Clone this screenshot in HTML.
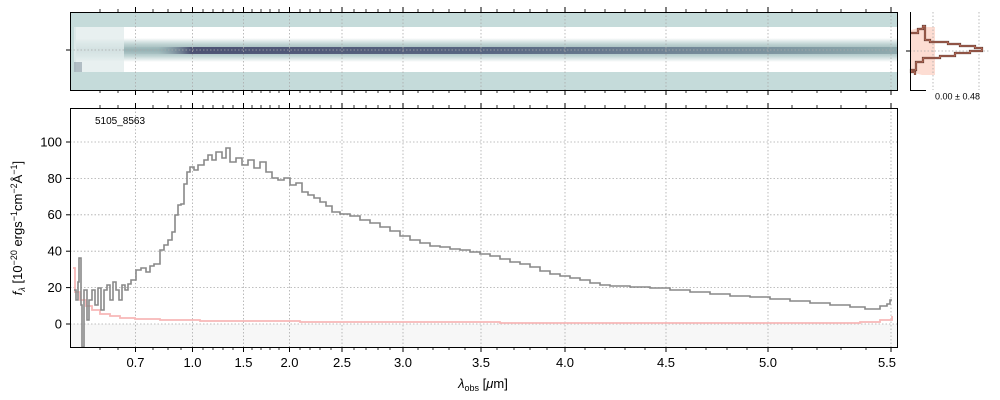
<!DOCTYPE html><html><head><style>body{margin:0;background:#fff}svg{display:block}text{font-family:"Liberation Sans",sans-serif}</style></head><body>
<svg width="1000" height="400" viewBox="0 0 1000 400">
<defs>
<linearGradient id="dk" x1="0" x2="1"><stop offset="0" stop-color="#8aa8ac" stop-opacity="0"/><stop offset="0.1" stop-color="#8aa8ac" stop-opacity="0.3"/><stop offset="0.14" stop-color="#3d3f66"/><stop offset="0.5" stop-color="#4a5676"/><stop offset="1" stop-color="#8aa6aa"/></linearGradient>
<linearGradient id="mid" x1="0" x2="0" y1="0" y2="1"><stop offset="0" stop-color="#fff"/><stop offset="0.25" stop-color="#c0d4d4"/><stop offset="0.5" stop-color="#98b4b6"/><stop offset="0.75" stop-color="#c0d4d4"/><stop offset="1" stop-color="#fff"/></linearGradient>
</defs>
<rect x="70" y="12" width="827" height="78" fill="#c5dbda"/>
<rect x="76" y="27" width="821" height="45" fill="#fff"/>
<rect x="76" y="38" width="821" height="24" fill="url(#mid)"/>
<rect x="76" y="47" width="821" height="7" fill="url(#dk)" opacity="0.85"/>
<rect x="74" y="27" width="50" height="45" fill="#e2ecec" opacity="0.8"/>
<rect x="74" y="62" width="8" height="10" fill="#7a8a98" opacity="0.5"/>
<g stroke="#aaa" stroke-dasharray="1.5,2" stroke-width="0.8">
<line x1="135.5" y1="12" x2="135.5" y2="90"/><line x1="192.5" y1="12" x2="192.5" y2="90"/><line x1="243.5" y1="12" x2="243.5" y2="90"/><line x1="289.5" y1="12" x2="289.5" y2="90"/><line x1="342" y1="12" x2="342" y2="90"/><line x1="403" y1="12" x2="403" y2="90"/><line x1="481" y1="12" x2="481" y2="90"/><line x1="565" y1="12" x2="565" y2="90"/><line x1="666" y1="12" x2="666" y2="90"/><line x1="768" y1="12" x2="768" y2="90"/><line x1="891" y1="12" x2="891" y2="90"/>
<line x1="70" y1="50" x2="897" y2="50"/>
</g>
<rect x="70.5" y="12.5" width="827" height="78" fill="none" stroke="#000"/>
<line x1="66" y1="50" x2="70" y2="50" stroke="#000"/>
<polygon points="911,30 922,27 935,27 935,75 922,75 911,72" fill="#fdd5c8" opacity="0.8"/>
<g stroke="#aaa" stroke-dasharray="1.5,2" stroke-width="0.8"><line x1="933" y1="12" x2="933" y2="90"/><line x1="979" y1="12" x2="979" y2="90"/><line x1="910" y1="51" x2="990" y2="51"/></g>
<path d="M911,33 H918 V29 H923 V26 H925 V40 H930 V42 H948 V44 H960 V46 H975 V48 H982 V51 H970 V53 H955 V56 H940 V58 H923 V62 H916 V70 H911 V72 H915 V75" fill="none" stroke="#5a3a30" stroke-width="2.2"/>
<path d="M911,33 H918 V29 H923 V26 H925 V40 H930 V42 H948 V44 H960 V46 H975 V48 H982 V51 H970 V53 H955 V56 H940 V58 H923 V62 H916 V70 H911 V72 H915 V75" fill="none" stroke="#e8806a" stroke-width="0.8"/>
<path d="M910.5,12 V90.5 H926" fill="none" stroke="#000"/>
<line x1="906" y1="51" x2="910" y2="51" stroke="#000"/>
<text x="935" y="93" font-size="9" dominant-baseline="hanging">0.00 ± 0.48</text>
<rect x="70" y="324" width="827" height="23" fill="#f7f7f7"/>
<g stroke="#aaa" stroke-dasharray="1.5,2" stroke-width="0.8">
<line x1="135.5" y1="108" x2="135.5" y2="347"/><line x1="192.5" y1="108" x2="192.5" y2="347"/><line x1="243.5" y1="108" x2="243.5" y2="347"/><line x1="289.5" y1="108" x2="289.5" y2="347"/><line x1="342" y1="108" x2="342" y2="347"/><line x1="403" y1="108" x2="403" y2="347"/><line x1="481" y1="108" x2="481" y2="347"/><line x1="565" y1="108" x2="565" y2="347"/><line x1="666" y1="108" x2="666" y2="347"/><line x1="768" y1="108" x2="768" y2="347"/><line x1="891" y1="108" x2="891" y2="347"/>
<line x1="70" y1="142" x2="897" y2="142"/><line x1="70" y1="178.4" x2="897" y2="178.4"/><line x1="70" y1="214.8" x2="897" y2="214.8"/><line x1="70" y1="251.2" x2="897" y2="251.2"/><line x1="70" y1="287.6" x2="897" y2="287.6"/><line x1="70" y1="324" x2="897" y2="324"/>
</g>
<polyline fill="none" stroke="#f8b8b8" stroke-width="1.8" points="73,268 75,268 75,292 80,292 80,300 86,300 86,306 92,306 92,310 100,310 100,314 110,314 110,316 120,316 120,318 135,318 135,319 160,319 160,320 200,320 200,321 300,321 300,322 500,322 500,323 860,323 860,322 880,322 880,320 892,320 892,316"/>
<polyline fill="none" stroke="#888" stroke-width="1.6" points="74,290 76,290 76,300 78,300 78,282 79,282 79,258 81,258 81,305 82,305 82,347 84,347 84,290 87,290 87,320 89,320 89,300 92,300 92,290 95,290 95,305 98,305 98,288 101,288 101,310 104,310 104,290 107,290 107,285 110,285 110,300 113,300 113,282 116,282 116,290 119,290 119,300 122,300 122,285 125,285 125,290 128,290 128,284 131,284 131,280 136,280 136,270 141,270 141,268 146,268 146,272 150,272 150,266 154,266 154,264 160,264 160,250 164,250 164,245 168,245 168,240 172,240 172,232 175,232 175,215 178,215 178,205 181,205 181,204 184,204 184,184 187,184 187,172 190,172 190,167 194,167 194,170 198,170 198,165 204,165 204,160 208,160 208,155 212,155 212,160 216,160 216,152 222,152 222,158 226,158 226,148 230,148 230,162 236,162 236,158 242,158 242,165 248,165 248,160 254,160 254,168 260,168 260,162 266,162 266,172 272,172 272,178 278,178 278,180 284,180 284,178 290,178 290,185 296,185 296,183 302,183 302,192 308,192 308,195 314,195 314,198 320,198 320,202 326,202 326,206 332,206 332,212 340,212 340,214 350,214 350,216 360,216 360,220 370,220 370,223 380,223 380,227 390,227 390,231 400,231 400,236 410,236 410,240 420,240 420,243 430,243 430,246 440,246 440,247 450,247 450,249 460,249 460,250 470,250 470,252 480,252 480,254 490,254 490,256 500,256 500,259 510,259 510,262 520,262 520,264 530,264 530,267 540,267 540,271 550,271 550,274 560,274 560,276 570,276 570,278 580,278 580,280 590,280 590,283 600,283 600,285 610,285 610,286 630,286 630,287 650,287 650,288 670,288 670,290 690,290 690,292 710,292 710,294 730,294 730,296 750,296 750,297 770,297 770,299 790,299 790,301 810,301 810,303 830,303 830,305 850,305 850,307 865,307 865,309 880,309 880,306 887,306 887,304 890,304 890,300 892,300"/>
<rect x="70.5" y="108.5" width="827" height="239" fill="none" stroke="#000"/>
<g stroke="#000">
<line x1="66" y1="142" x2="70" y2="142"/><line x1="66" y1="178.4" x2="70" y2="178.4"/><line x1="66" y1="214.8" x2="70" y2="214.8"/><line x1="66" y1="251.2" x2="70" y2="251.2"/><line x1="66" y1="287.6" x2="70" y2="287.6"/><line x1="66" y1="324" x2="70" y2="324"/>
<path d="M135.5,347v5M192.5,347v5M243.5,347v5M289.5,347v5M342,347v5M403,347v5M481,347v5M565,347v5M666,347v5M768,347v5M891,347v5 M135.5,108v-5M192.5,108v-5M243.5,108v-5M289.5,108v-5M342,108v-5M403,108v-5M481,108v-5M565,108v-5M666,108v-5M768,108v-5M891,108v-5 M135.5,12v-5M192.5,12v-5M243.5,12v-5M289.5,12v-5M342,12v-5M403,12v-5M481,12v-5M565,12v-5M666,12v-5M768,12v-5M891,12v-5 M135.5,90v5M192.5,90v5M243.5,90v5M289.5,90v5M342,90v5M403,90v5M481,90v5M565,90v5M666,90v5M768,90v5M891,90v5"/>
<path stroke-width="0.8" d="M100,347v3M118,347v3M153,347v3M168,347v3M181,347v3M203,347v3M213,347v3M223,347v3M233,347v3M252,347v3M261,347v3M270,347v3M279,347v3M300,347v3M310,347v3M320,347v3M331,347v3M354,347v3M366,347v3M378,347v3M390,347v3M418,347v3M433,347v3M449,347v3M465,347v3M497,347v3M514,347v3M530,347v3M547,347v3M585,347v3M605,347v3M625,347v3M645,347v3M686,347v3M706,347v3M727,347v3M747,347v3M792,347v3M817,347v3M841,347v3M866,347v3 M100,108v-3M118,108v-3M153,108v-3M168,108v-3M181,108v-3M203,108v-3M213,108v-3M223,108v-3M233,108v-3M252,108v-3M261,108v-3M270,108v-3M279,108v-3M300,108v-3M310,108v-3M320,108v-3M331,108v-3M354,108v-3M366,108v-3M378,108v-3M390,108v-3M418,108v-3M433,108v-3M449,108v-3M465,108v-3M497,108v-3M514,108v-3M530,108v-3M547,108v-3M585,108v-3M605,108v-3M625,108v-3M645,108v-3M686,108v-3M706,108v-3M727,108v-3M747,108v-3M792,108v-3M817,108v-3M841,108v-3M866,108v-3 M100,12v-3M118,12v-3M153,12v-3M168,12v-3M181,12v-3M203,12v-3M213,12v-3M223,12v-3M233,12v-3M252,12v-3M261,12v-3M270,12v-3M279,12v-3M300,12v-3M310,12v-3M320,12v-3M331,12v-3M354,12v-3M366,12v-3M378,12v-3M390,12v-3M418,12v-3M433,12v-3M449,12v-3M465,12v-3M497,12v-3M514,12v-3M530,12v-3M547,12v-3M585,12v-3M605,12v-3M625,12v-3M645,12v-3M686,12v-3M706,12v-3M727,12v-3M747,12v-3M792,12v-3M817,12v-3M841,12v-3M866,12v-3 M100,90v3M118,90v3M153,90v3M168,90v3M181,90v3M203,90v3M213,90v3M223,90v3M233,90v3M252,90v3M261,90v3M270,90v3M279,90v3M300,90v3M310,90v3M320,90v3M331,90v3M354,90v3M366,90v3M378,90v3M390,90v3M418,90v3M433,90v3M449,90v3M465,90v3M497,90v3M514,90v3M530,90v3M547,90v3M585,90v3M605,90v3M625,90v3M645,90v3M686,90v3M706,90v3M727,90v3M747,90v3M792,90v3M817,90v3M841,90v3M866,90v3"/>
</g>
<g font-size="13" text-anchor="end"><text x="62" y="146.5">100</text><text x="62" y="183">80</text><text x="62" y="219">60</text><text x="62" y="255.5">40</text><text x="62" y="292">20</text><text x="62" y="328.5">0</text></g>
<g font-size="13" text-anchor="middle"><text x="135.5" y="367">0.7</text><text x="192.5" y="367">1.0</text><text x="243.5" y="367">1.5</text><text x="289.5" y="367">2.0</text><text x="342" y="367">2.5</text><text x="403" y="367">3.0</text><text x="481" y="367">3.5</text><text x="565" y="367">4.0</text><text x="666" y="367">4.5</text><text x="768" y="367">5.0</text><text x="887" y="367">5.5</text></g>
<text x="95" y="124" font-size="10">5105_8563</text>
<text x="483" y="388" font-size="13" text-anchor="middle"><tspan font-style="italic">λ</tspan><tspan font-size="9" dy="3">obs</tspan><tspan dy="-3"> [</tspan><tspan font-style="italic">μ</tspan>m]</text>
<text transform="translate(22,228) rotate(-90)" font-size="13" text-anchor="middle"><tspan font-style="italic">f</tspan><tspan font-size="9" dy="3" font-style="italic">λ</tspan><tspan dy="-3"> [10</tspan><tspan font-size="9" dy="-5">−20</tspan><tspan dy="5"> ergs</tspan><tspan font-size="9" dy="-5">−1</tspan><tspan dy="5">cm</tspan><tspan font-size="9" dy="-5">−2</tspan><tspan dy="5">Å</tspan><tspan font-size="9" dy="-5">−1</tspan><tspan dy="5">]</tspan></text>
</svg></body></html>
